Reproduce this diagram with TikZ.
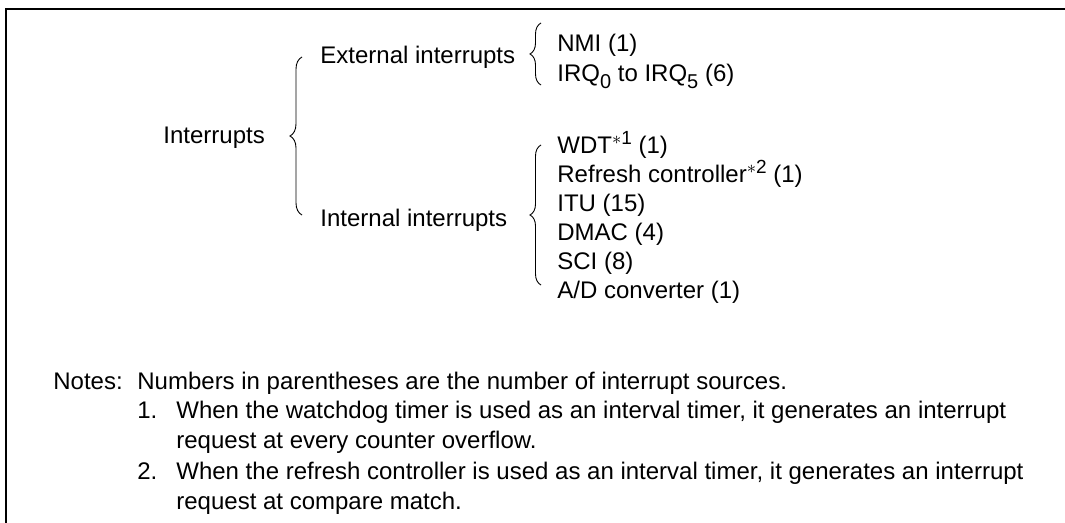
\documentclass[tikz,border=0pt]{standalone}
\usepackage{fontspec}
\setmainfont{Liberation Sans}
\usetikzlibrary{decorations.pathreplacing,positioning}
\newcommand{\Lsub}[1]{\raisebox{-0.5ex}{\fontsize{10}{10}\selectfont #1}}
\newcommand{\Lnote}[1]{\raisebox{0.75ex}{\fontsize{9.5}{10}\selectfont\(\ast\)#1}}
\tikzset{
  lbl/.style={anchor=base west, inner sep=0pt, font=\fontsize{12}{14.5}\selectfont},
  brc/.style={decorate, decoration={brace, amplitude=#1}, line width=0.45pt},
  brc/.default=6pt,
  frm/.style={line width=1pt},
}

\begin{document}
\begin{tikzpicture}[x=0.5pt, y=-0.5pt]
 \useasboundingbox (0,0) rectangle (1065,523);
 \draw[frm] (6,523) -- (6,9) -- (1065,9);

 % tree of sources
 \node[lbl] (intr) at (163,144) {Interrupts};
 \node[lbl] (ext) at (320,64) {External interrupts};
 \node[lbl] (int) at (320,227) {Internal interrupts};
 \node[lbl] (nmi) at (557,52) {NMI (1)};
 \node[lbl] (irq) at (557,82) {IRQ\Lsub{0} to IRQ\Lsub{5} (6)};
 \foreach \nm/\txt [count=\i from 0] in {%
   wdt/{WDT\Lnote{1} (1)},
   rfsh/{Refresh controller\Lnote{2} (1)},
   itu/{ITU (15)},
   dmac/{DMAC (4)},
   sci/{SCI (8)},
   adc/{A/D converter (1)}}
 {
   \node[lbl] (\nm) at (557,{154+29*\i}) {\txt};
 }

 \coordinate (mainTop) at (302,57);  \coordinate (mainBot) at (302,215);
 \coordinate (extTop) at (541,23);   \coordinate (extBot) at (541,85);
 \coordinate (intTop) at (541,145);  \coordinate (intBot) at (541,285);
 \draw[brc] (mainBot) -- (mainTop);
 \draw[brc=5.5pt] (extBot) -- (extTop);
 \draw[brc=5.5pt] (intBot) -- (intTop);

 % notes
 \node[lbl] (notes) at (53,390) {Notes:};
 \node[lbl] (note0) at (137,390) {Numbers in parentheses are the number of interrupt sources.};
 \node[lbl] (n1) at (137,419) {1.};
 \node[lbl] (note1a) at (176,419) {When the watchdog timer is used as an interval timer, it generates an interrupt};
 \node[lbl] (note1b) at (176,449) {request at every counter overflow.};
 \node[lbl] (n2) at (137,479) {2.};
 \node[lbl] (note2a) at (176,479) {When the refresh controller is used as an interval timer, it generates an interrupt};
 \node[lbl] (note2b) at (176,509) {request at compare match.};
\end{tikzpicture}
\end{document}
